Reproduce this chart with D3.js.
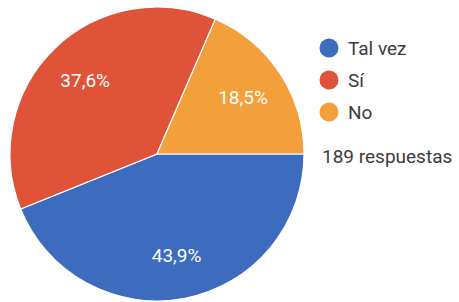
<!DOCTYPE html>
<html>
<head>
<meta charset="utf-8">
<script src="https://cdn.jsdelivr.net/npm/d3@7"></script>
<style>
	body { margin: 0; background: #fff; }
	text { font-family: Roboto, "Noto Sans", sans-serif; }
</style>
</head>
<body>
<svg id="pie-plot" width="459" height="302" viewBox="0 0 459 302"></svg>
<script>
// chart data
const categories = ["Tal vez", "Sí", "No"];
const percentages = [43.9, 37.6, 18.5];
const slice_colors = ["#3d6bbd", "#df5338", "#f29f3c"];
const total_label = "189 respuestas";

function whenDocumentLoaded(action) {
	if (document.readyState === "loading") {
		document.addEventListener("DOMContentLoaded", action);
	} else {
		action();
	}
}

whenDocumentLoaded(() => {
	const svg = d3.select('#pie-plot');

	const center = [157, 154];
	const radius = 147;

	const color_scale = d3.scaleOrdinal()
		.domain(categories)
		.range(slice_colors);

	const slices = categories.map((c, i) => ({ name: c, value: percentages[i] }));

	// starts at 3 o'clock, clockwise, data order kept
	const pie = d3.pie()
		.value(d => d.value)
		.sort(null)
		.startAngle(Math.PI / 2)
		.endAngle(Math.PI / 2 + 2 * Math.PI);

	const arc = d3.arc()
		.innerRadius(0)
		.outerRadius(radius);

	const label_arc = d3.arc()
		.innerRadius(radius * 0.7)
		.outerRadius(radius * 0.7);

	const pie_g = svg.append('g')
		.attr('transform', 'translate(' + center[0] + ',' + center[1] + ')');

	const arcs = pie(slices);

	pie_g.selectAll('.slice')
		.data(arcs)
		.enter()
		.append('path')
		.classed('slice', true)
		.attr('d', arc)
		.style('fill', d => color_scale(d.data.name))
		.style('stroke', '#fff')
		.style('stroke-width', 1.2);

	pie_g.selectAll('.slice-label')
		.data(arcs)
		.enter()
		.append('text')
		.classed('slice-label', true)
		.attr('transform', d => 'translate(' + label_arc.centroid(d) + ')')
		.attr('text-anchor', 'middle')
		.attr('dy', '.35em')
		.style('fill', '#fff')
		.style('font-size', '19px')
		.text(d => d3.format('.1f')(d.data.value).replace('.', ',') + '%');

	// legend
	const legend_g = svg.append('g')
		.attr('transform', 'translate(329, 48)');

	const legend_item = legend_g.selectAll('.legend-item')
		.data(categories)
		.enter()
		.append('g')
		.classed('legend-item', true)
		.attr('transform', (d, i) => 'translate(0,' + (i * 32) + ')');

	legend_item.append('circle')
		.attr('r', 9.5)
		.style('fill', d => color_scale(d));

	legend_item.append('text')
		.attr('x', 19)
		.attr('dy', '.36em')
		.style('font-size', '19px')
		.style('fill', '#3c3c3c')
		.text(d => d);

	svg.append('text')
		.attr('x', 322)
		.attr('y', 156)
		.attr('dy', '.36em')
		.style('font-size', '19px')
		.style('fill', '#3c3c3c')
		.text(total_label);
});
</script>
</body>
</html>
